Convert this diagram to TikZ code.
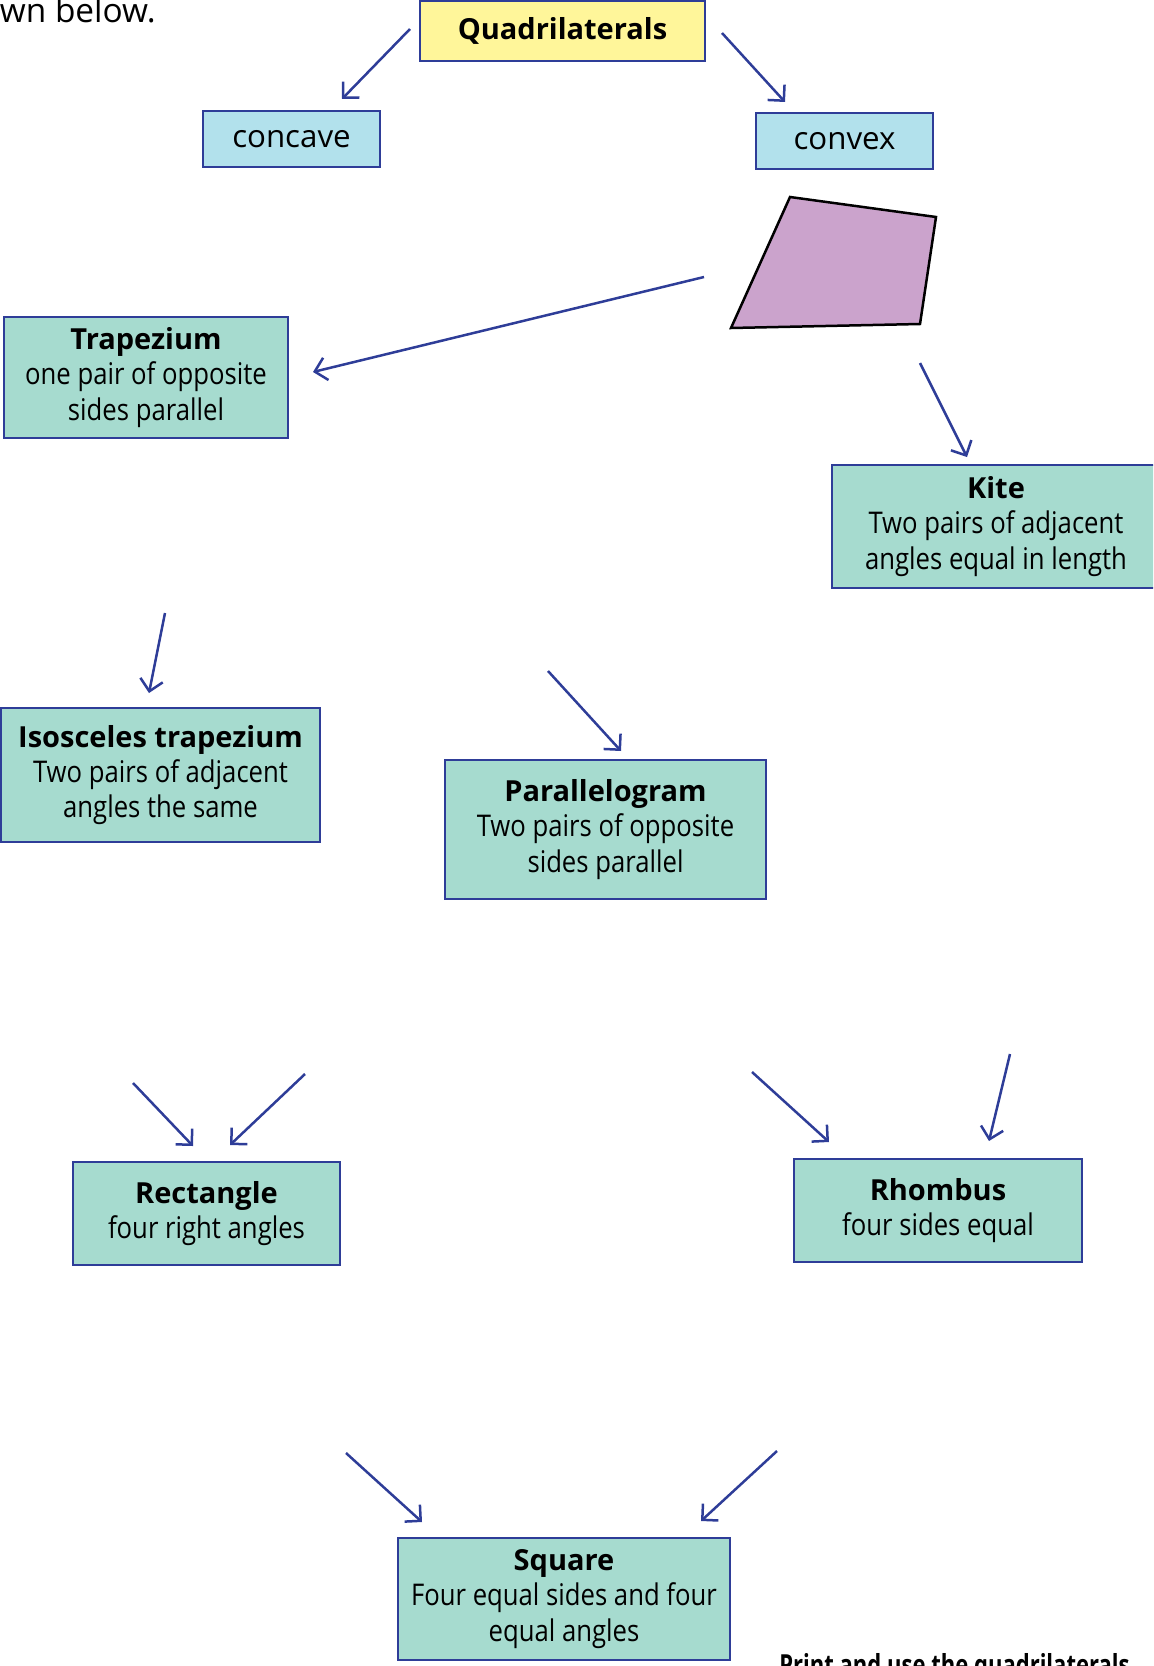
\documentclass[tikz,border=0pt]{standalone}
\usepackage{fontspec}
\setmainfont{Open Sans}
\newfontfamily\condfont{Open Sans}[FakeStretch=0.86]
\newfontfamily\narrowfont{Open Sans}[FakeStretch=0.76]
\usetikzlibrary{arrows.meta}

\definecolor{quadyellow}{HTML}{FFF69A}
\definecolor{typeblue}{HTML}{B2E1EC}
\definecolor{shapegreen}{HTML}{A6DBCF}
\definecolor{edgeblue}{HTML}{2E3D98}
\definecolor{kitepurple}{HTML}{CBA3CC}

\newcommand{\px}{0.02cm}

\tikzset{
  box/.style={draw=edgeblue, line width=2.5*\px, inner sep=0pt, align=center,
    font=\condfont\fontsize{17}{20}\selectfont},
  kind/.style={box, font=\fontsize{17.8}{20}\selectfont},
  arr/.style={draw=edgeblue, line width=2.5*\px, -{Straight Barb[length=6.5pt,width=13pt]}}
}

\begin{document}
\begin{tikzpicture}[x=\px, y=-\px]

\useasboundingbox (0,0) rectangle (1153,1666);
\clip (0,0) rectangle (1153,1666);

\node [anchor=base east, font=\fontsize{19}{22}\selectfont, inner sep=0pt] (intro) at (156,23) {wn below.};

\node (quad) at (562.5,31) [box, fill=quadyellow, minimum width=285*\px, minimum height=60*\px, font=\fontsize{16.5}{20}\selectfont\bfseries] {Quadrilaterals};
\node (concave) at (291.5,139) [kind, fill=typeblue, minimum width=177*\px, minimum height=56*\px] {concave};
\node (convex) at (844.5,141) [kind, fill=typeblue, minimum width=177*\px, minimum height=56*\px] {convex};

\draw [line width=2.5*\px, fill=kitepurple] (790,197) -- (936,217) -- (920,324) -- (731,328) -- cycle;

\node (trap) at (146,377.5) [box, fill=shapegreen, minimum width=284*\px, minimum height=121*\px]
  {{\normalfont\fontsize{16.5}{20}\selectfont\bfseries Trapezium}\\one pair of opposite\\sides parallel};
\node (kite) at (996,526.5) [box, fill=shapegreen, minimum width=328*\px, minimum height=123*\px]
  {{\normalfont\fontsize{16.5}{20}\selectfont\bfseries Kite}\\Two pairs of adjacent\\angles equal in length};
\node (iso) at (160.5,775) [box, fill=shapegreen, minimum width=319*\px, minimum height=134*\px]
  {{\normalfont\fontsize{16.5}{20}\selectfont\bfseries Isosceles trapezium}\\Two pairs of adjacent\\angles the same};
\node (para) at (605.5,829.5) [box, fill=shapegreen, minimum width=321*\px, minimum height=139*\px]
  {{\normalfont\fontsize{16.5}{20}\selectfont\bfseries Parallelogram}\\Two pairs of opposite\\sides parallel};
\node (rect) at (206.5,1213.5) [box, fill=shapegreen, minimum width=267*\px, minimum height=103*\px]
  {{\normalfont\fontsize{16.5}{20}\selectfont\bfseries Rectangle}\\four right angles};
\node (rhombus) at (938,1210.5) [box, fill=shapegreen, minimum width=288*\px, minimum height=103*\px]
  {{\normalfont\fontsize{16.5}{20}\selectfont\bfseries Rhombus}\\four sides equal};
\node (square) at (564,1599) [box, fill=shapegreen, minimum width=332*\px, minimum height=122*\px]
  {{\normalfont\fontsize{16.5}{20}\selectfont\bfseries Square}\\Four equal sides and four\\equal angles};

\node [anchor=base west, font=\narrowfont\fontsize{16.5}{20}\selectfont\bfseries, inner sep=0pt] (print) at (779,1675) {Print and use the quadrilaterals};

% arrows
\coordinate (q1) at (410,29);   \coordinate (q2) at (342,99);
\coordinate (q3) at (722,33);   \coordinate (q4) at (785,102);
\coordinate (k1) at (704,277);  \coordinate (k2) at (313,372);
\coordinate (k3) at (920,363);  \coordinate (k4) at (967,457);
\coordinate (t1) at (165,613);  \coordinate (t2) at (149,693);
\coordinate (p1) at (548,671);  \coordinate (p2) at (621,751);
\coordinate (r1) at (133,1083); \coordinate (r2) at (193,1146);
\coordinate (r3) at (305,1074); \coordinate (r4) at (230,1145);
\coordinate (h1) at (752,1072); \coordinate (h2) at (829,1142);
\coordinate (h3) at (1010,1054);\coordinate (h4) at (989,1141);
\coordinate (s1) at (346,1453); \coordinate (s2) at (422,1522);
\coordinate (s3) at (777,1451); \coordinate (s4) at (701,1521);

\foreach \a/\b in {q1/q2, q3/q4, k1/k2, k3/k4, t1/t2, p1/p2, r1/r2, r3/r4, h1/h2, h3/h4, s1/s2, s3/s4}
  \draw [arr] (\a) -- (\b);

\end{tikzpicture}
\end{document}
